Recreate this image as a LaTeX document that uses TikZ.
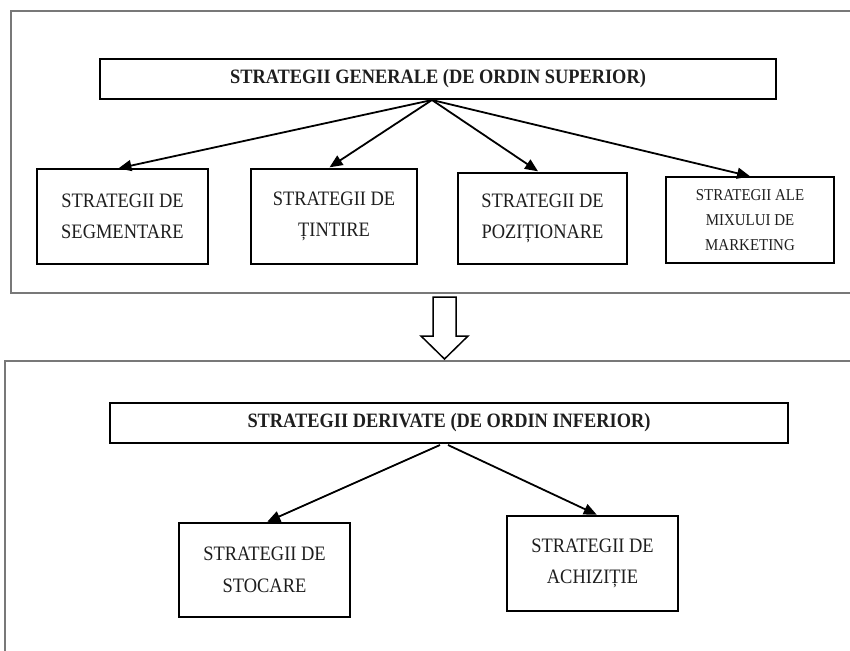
\documentclass[tikz,border=0pt]{standalone}
\usepackage{fontspec}
\setmainfont{Liberation Serif}[FakeStretch=0.9]
\usetikzlibrary{arrows.meta,calc}
\definecolor{txt}{RGB}{30,30,30}
\definecolor{framegray}{RGB}{120,120,120}
\begin{document}
\begin{tikzpicture}[x=1pt,y=-1pt,
  box/.style={draw=black,line width=1.8pt,rectangle,inner sep=0pt,outer sep=0pt,align=center,text=txt},
  titlebox/.style={box,font=\fontsize{20.4}{22}\selectfont\bfseries},
  childbox/.style={box,font=\fontsize{20.5}{31.5}\selectfont},
  smallbox/.style={box,font=\fontsize{16.6}{25}\selectfont},
  frame/.style={draw=framegray,line width=1.3pt},
  conn/.style={line width=1.8pt,-{Triangle[length=13pt,width=11pt]},shorten >=3pt}]
\useasboundingbox (0,0) rectangle (850,650);
\clip (0,0) rectangle (850,650);
\fill[white] (0,0) rectangle (850,650);
% frames
\draw[frame] (11,11) rectangle (900,293);
\draw[frame] (5,361) rectangle (900,700);
% top level
\node[titlebox,minimum width=676pt,minimum height=40pt] (gen) at (438,79) {STRATEGII GENERALE (DE ORDIN SUPERIOR)};
\node[childbox,minimum width=171pt,minimum height=95pt] (b1) at (122.5,216.5) {STRATEGII DE\\SEGMENTARE};
\node[childbox,minimum width=166pt,minimum height=95pt] (b2) at (334,216.5) {STRATEGII DE\\ȚINTIRE};
\node[childbox,minimum width=169pt,minimum height=91pt] (b3) at (542.5,218.5) {STRATEGII DE\\POZIȚIONARE};
\node[smallbox,minimum width=168pt,minimum height=86pt] (b4) at (750,220) {STRATEGII ALE\\MIXULUI DE\\MARKETING};
\coordinate (o1) at ($(gen.south)+(-6,1)$);
\draw[conn] (o1) -- ($(b1.north)+(-7,0)$);
\draw[conn] (o1) -- ($(b2.north)+(-7,0)$);
\draw[conn] (o1) -- ($(b3.north)+(-2,0)$);
\draw[conn] (o1) -- ($(b4.north)+(3,0)$);
% block arrow
\draw[line width=1.5pt,draw=black,fill=white] (433,297) -- (456,297) -- (456,336) -- (468,336) -- (444.5,359) -- (421,336) -- (433,336) -- cycle;
% bottom level
\node[titlebox,minimum width=678pt,minimum height=40pt] (der) at (449,423) {STRATEGII DERIVATE (DE ORDIN INFERIOR)};
\node[childbox,minimum width=171pt,minimum height=94pt] (s) at (264.5,570) {STRATEGII DE\\STOCARE};
\node[childbox,minimum width=171pt,minimum height=95pt] (a) at (592.5,563.5) {STRATEGII DE\\ACHIZIȚIE};
\coordinate (o2) at ($(der.south)+(-9,2)$);
\coordinate (o3) at ($(der.south)+(-1,2)$);
\draw[conn] (o2) -- (s.north);
\draw[conn] (o3) -- ($(a.north)+(7,0)$);
\end{tikzpicture}
\end{document}
